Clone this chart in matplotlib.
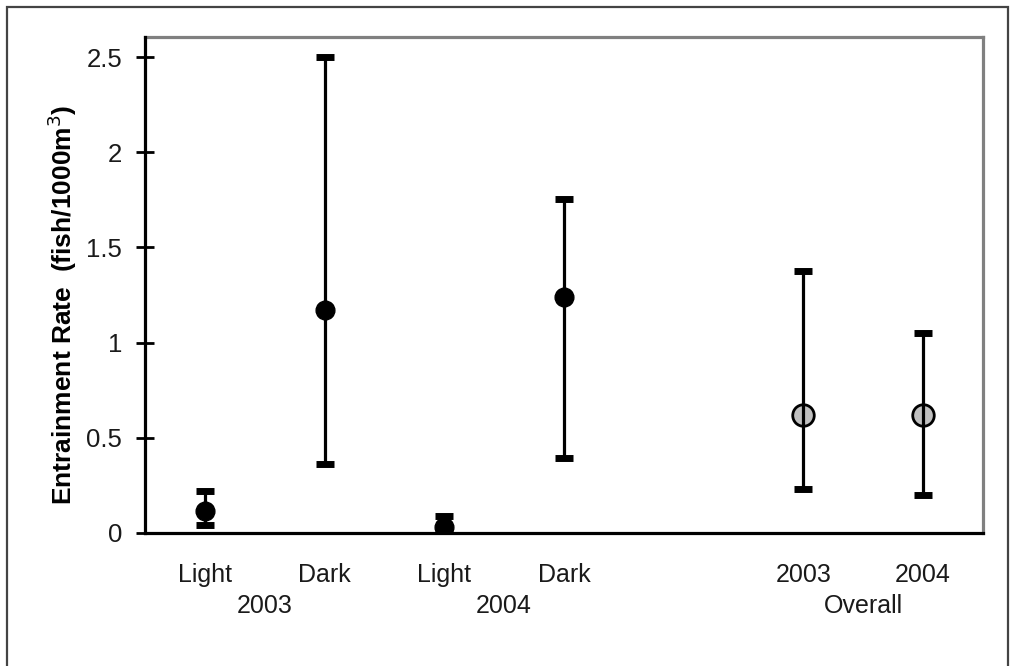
import numpy as np
import matplotlib
matplotlib.use('Agg')
import matplotlib.pyplot as plt
from matplotlib.patches import Rectangle

plt.rcParams['font.family'] = ['Liberation Sans', 'DejaVu Sans']

# data
groups = ['Light', 'Dark', 'Light', 'Dark', '2003', '2004']
xpos = [1, 2, 3, 4, 6, 7]
mean = [0.117, 1.171, 0.03, 1.238, 0.62, 0.62]
upper = [0.222, 2.5, 0.09, 1.754, 1.376, 1.052]
lower = [0.042, 0.361, 0.0, 0.395, 0.229, 0.198]
years = ['2003', '2004', 'Overall']
year_pos = [1.5, 3.5, 6.5]

fig = plt.figure(figsize=(10.14, 6.66), dpi=100)
ax = fig.add_axes([0.143, 0.1997, 0.8264, 0.7447])

mean = np.array(mean)
err = [mean - np.array(lower), np.array(upper) - mean]

# light/dark points black, overall points grey
for i in range(len(xpos)):
    if i < 4:
        ax.errorbar(xpos[i], mean[i], yerr=[[err[0][i]], [err[1][i]]], fmt='o', color='black',
                    ms=13.5, elinewidth=2.3, capsize=6.5, capthick=5, zorder=3)
    else:
        ax.plot(xpos[i], mean[i], 'o', ms=15.5, mfc='#c0c0c0', mec='black', mew=2, zorder=2)
        ax.errorbar(xpos[i], mean[i], yerr=[[err[0][i]], [err[1][i]]], fmt='none', ecolor='black',
                    elinewidth=2.3, capsize=6.5, capthick=5, zorder=3)

ax.set_xlim(0.5, 7.5)
ax.set_ylim(0, 2.605)
ax.set_yticks([0, 0.5, 1, 1.5, 2, 2.5])
ax.set_yticklabels(['0', '0.5', '1', '1.5', '2', '2.5'])
ax.tick_params(axis='y', direction='inout', length=13, width=2, labelsize=18.5, pad=10,
               labelcolor='#1a1a1a')
ax.set_xticks([])

for s in ['left', 'bottom']:
    ax.spines[s].set_linewidth(2.3)
    ax.spines[s].set_color('black')
for s in ['top', 'right']:
    ax.spines[s].set_linewidth(2.3)
    ax.spines[s].set_color('#808080')
ax.spines['left'].set_zorder(4)

for x, g in zip(xpos, groups):
    ax.text(x, -0.22, g, ha='center', va='center', fontsize=18, color='#1a1a1a')
for x, y in zip(year_pos, years):
    ax.text(x, -0.385, y, ha='center', va='center', fontsize=18, color='#1a1a1a')

ax.set_ylabel('Entrainment Rate  (fish/1000m$^{3}$)', fontsize=19, fontweight='bold')
ax.yaxis.set_label_coords(-0.079, 0.46)

fig.patches.append(Rectangle((0.0069, -0.05), 0.9872, 1.0395, transform=fig.transFigure,
                             fill=False, edgecolor='#444444', linewidth=1.6))

fig.savefig('out.png', dpi=100)
